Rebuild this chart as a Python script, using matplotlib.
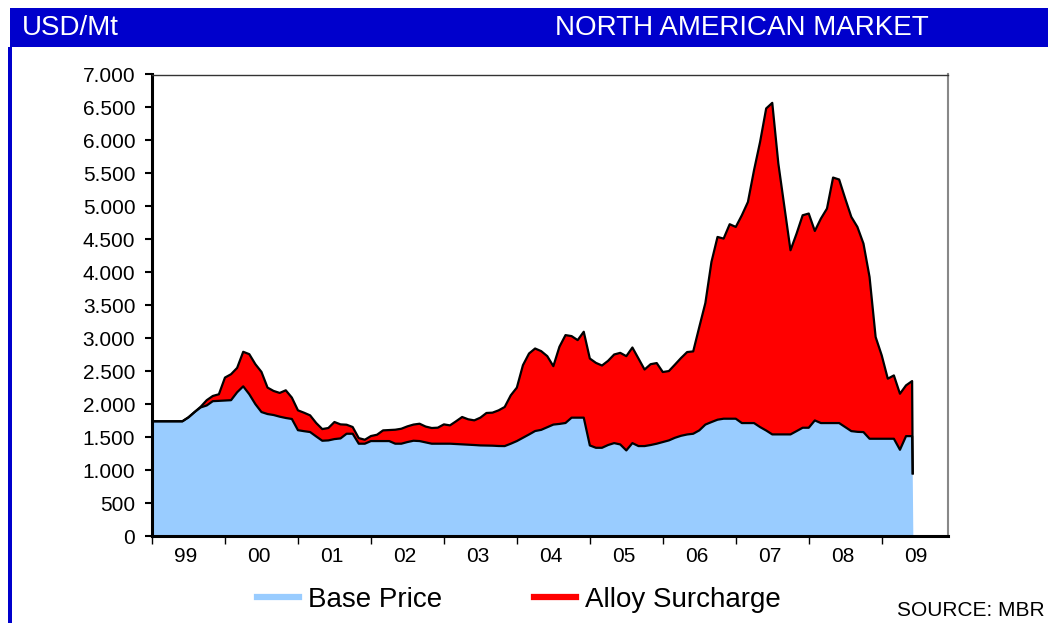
import matplotlib
matplotlib.use("Agg")
import matplotlib.pyplot as plt
from matplotlib.patches import Rectangle
from matplotlib.lines import Line2D
from matplotlib.ticker import FuncFormatter, FixedLocator, NullFormatter
import numpy as np

plt.rcParams['font.family'] = ['Liberation Sans', 'DejaVu Sans']

# Monthly data, Jan 1999 (month 0) .. Jun 2009 (month 125), USD/Mt
base_price = [
    1740, 1740, 1740, 1740, 1740, 1740, 1800, 1880, 1950, 1980,   # 0-9
    2045, 2050, 2055, 2060, 2180, 2270, 2150, 2000, 1880, 1850,   # 10-19
    1835, 1810, 1790, 1775, 1605, 1590, 1577, 1510, 1445, 1450,   # 20-29
    1470, 1480, 1551, 1551, 1400, 1400, 1440, 1440, 1440, 1440,   # 30-39
    1400, 1400, 1425, 1445, 1440, 1420, 1400, 1400, 1400, 1400,   # 40-49
    1395, 1390, 1385, 1380, 1374, 1372, 1370, 1365, 1364, 1400,   # 50-59
    1440, 1490, 1540, 1592, 1610, 1650, 1690, 1700, 1714, 1795,   # 60-69
    1795, 1795, 1374, 1338, 1338, 1380, 1409, 1389, 1298, 1409,   # 70-79
    1364, 1364, 1380, 1400, 1425, 1450, 1490, 1520, 1540, 1551,   # 80-89
    1602, 1690, 1728, 1764, 1779, 1779, 1779, 1713, 1713, 1713,   # 90-99
    1652, 1600, 1541, 1541, 1541, 1541, 1591, 1642, 1642, 1753,   # 100-109
    1713, 1713, 1713, 1713, 1652, 1591, 1580, 1576, 1475, 1475,   # 110-119
    1475, 1475, 1475, 1308, 1515, 1515,                           # 120-125
]
total_price = [
    1740, 1740, 1740, 1740, 1740, 1740, 1800, 1880, 1960, 2060,   # 0-9
    2124, 2150, 2403, 2454, 2550, 2794, 2758, 2606, 2489, 2251,   # 10-19
    2200, 2170, 2210, 2099, 1906, 1870, 1830, 1714, 1622, 1638,   # 20-29
    1729, 1693, 1688, 1653, 1485, 1460, 1516, 1536, 1602, 1607,   # 30-39
    1612, 1627, 1663, 1690, 1703, 1660, 1638, 1643, 1693, 1678,   # 40-49
    1740, 1805, 1770, 1754, 1795, 1866, 1871, 1906, 1957, 2134,   # 50-59
    2251, 2591, 2768, 2844, 2804, 2728, 2576, 2870, 3047, 3032,   # 60-69
    2971, 3098, 2692, 2626, 2586, 2657, 2753, 2778, 2728, 2859,   # 70-79
    2692, 2525, 2606, 2623, 2487, 2502, 2600, 2700, 2790, 2800,   # 80-89
    3170, 3534, 4157, 4536, 4511, 4729, 4688, 4865, 5067, 5548,   # 90-99
    5978, 6485, 6570, 5650, 4991, 4334, 4587, 4865, 4891, 4627,   # 100-109
    4815, 4967, 5437, 5407, 5118, 4840, 4688, 4435, 3929, 3018,   # 110-119
    2740, 2386, 2436, 2158, 2285, 2350,                           # 120-125
]
# closing drop after the last month and empty months to Dec 2009
tail_months = [125.1, 125.2, 130.9]
tail_values = [950, 0, 0]

year_labels = ['99', '00', '01', '02', '03', '04', '05', '06', '07', '08', '09']

W, H = 1048, 623
fig = plt.figure(figsize=(W / 100, H / 100), dpi=100)

# header band and left border
fig.patches.append(Rectangle((10 / W, 1 - 47 / H), 1 - 10 / W, 39 / H,
                             transform=fig.transFigure, facecolor='#0000CC',
                             edgecolor='none', zorder=0))
fig.patches.append(Rectangle((8 / W, 0), 4 / W, 1 - 47 / H,
                             transform=fig.transFigure, facecolor='#0000CC',
                             edgecolor='none', zorder=0))
fig.text(22 / W, 1 - 28 / H, 'USD/Mt', color='white', fontsize=20,
         va='center', ha='left')
fig.text(555 / W, 1 - 28 / H, 'NORTH AMERICAN MARKET', color='white',
         fontsize=20, va='center', ha='left')

ax = fig.add_axes([152 / W, 1 - 536 / H, (948 - 152) / W, (536 - 74.5) / H])

months = np.arange(len(base_price))
base = np.array(base_price, dtype=float)
total = np.array(total_price, dtype=float)

xs = np.concatenate([months, tail_months[:2]])
b_all = np.concatenate([base, [tail_values[0], tail_values[1]]])
t_all = np.concatenate([total, [tail_values[0], tail_values[1]]])

ax.fill_between(xs, 0, b_all, facecolor='#99CCFF', edgecolor='none',
                linewidth=0, zorder=1)
ax.fill_between(xs, b_all, t_all, facecolor='#FF0000', edgecolor='none',
                linewidth=0, zorder=1)

bx = np.concatenate([months, tail_months[:1]])
ax.plot(bx, np.concatenate([base, tail_values[:1]]), color='black', lw=1.6, zorder=3)
ax.plot(bx, np.concatenate([total, tail_values[:1]]), color='black', lw=1.6, zorder=3)
ax.plot(tail_months[1:], tail_values[1:], color='black', lw=2, zorder=3)

ax.set_xlim(0, 130.9)
ax.set_ylim(0, 7000)

ax.yaxis.set_major_locator(FixedLocator(np.arange(0, 7001, 500)))
ax.yaxis.set_major_formatter(FuncFormatter(lambda v, p: f"{int(v):,}".replace(',', '.')))
ax.tick_params(axis='y', direction='out', length=5, width=1.5, labelsize=15,
               pad=7, colors='black')

ax.xaxis.set_major_locator(FixedLocator(np.arange(0, 12 * 11, 12)))
ax.xaxis.set_major_formatter(NullFormatter())
ax.xaxis.set_minor_locator(FixedLocator(np.arange(len(year_labels)) * 12 + 5.6))
ax.xaxis.set_minor_formatter(FuncFormatter(
    lambda v, p: year_labels[int(round((v - 5.6) / 12))]))
ax.tick_params(axis='x', which='major', direction='out', length=6, width=1)
ax.tick_params(axis='x', which='minor', length=0, labelsize=15, pad=8)

for side in ['left', 'bottom']:
    ax.spines[side].set_linewidth(2.2)
    ax.spines[side].set_color('black')
ax.spines['top'].set_linewidth(1)
ax.spines['top'].set_color('#333333')
ax.spines['right'].set_linewidth(1.5)
ax.spines['right'].set_color('#888888')

handles = [Line2D([], [], color='#99CCFF', lw=4.5),
           Line2D([], [], color='#FF0000', lw=4.5)]
fig.legend(handles, ['Base Price', 'Alloy Surcharge'], loc='center',
           bbox_to_anchor=(519 / W, 1 - 600 / H), ncol=2, frameon=False,
           fontsize=20, handlelength=1.5, handletextpad=0.35,
           columnspacing=3.3)

fig.text(1045 / W, 1 - 610 / H, 'SOURCE: MBR', fontsize=15, ha='right',
         va='center')

fig.savefig('out.png', dpi=100)
